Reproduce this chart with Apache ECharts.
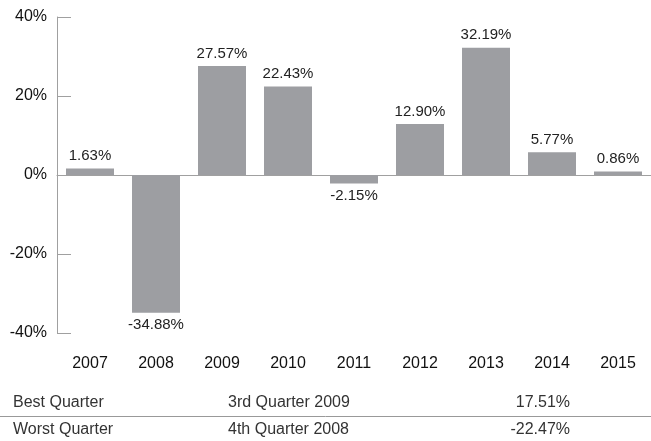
<!DOCTYPE html>
<html>
<head>
<meta charset="utf-8">
<script src="https://cdn.jsdelivr.net/npm/echarts@6/dist/echarts.min.js"></script>
<style>
html,body{margin:0;padding:0;background:#fff;}
#main{width:651px;height:441px;}
</style>
</head>
<body>
<div id="main"></div>
<script>
var years = ['2007','2008','2009','2010','2011','2012','2013','2014','2015'];
var returns = [1.63, -34.88, 27.57, 22.43, -2.15, 12.90, 32.19, 5.77, 0.86];
var yTicks = [-40, -20, 0, 20, 40];

var quarterNames = ['Best Quarter', 'Worst Quarter'];
var quarterWhen = ['3rd Quarter 2009', '4th Quarter 2008'];
var quarterValues = ['17.51%', '-22.47%'];

var font = "'Liberation Sans Narrow', 'Arial Narrow', Arial, sans-serif";

function makeBars(){
	var out = [];
	for (var i = 0; i < returns.length; i++){
		out.push({
			value: returns[i],
			label: { position: returns[i] < 0 ? 'bottom' : 'top' }
		});
	}
	return out;
}

function tableGraphic(){
	var g = [];
	var rowY = [404, 431];
	for (var i = 0; i < quarterNames.length; i++){
		var st = { fill: '#333', font: '16px ' + font, textVerticalAlign: 'middle' };
		g.push({ type: 'text', left: 13, top: rowY[i] - 9, style: Object.assign({ text: quarterNames[i] }, st) });
		g.push({ type: 'text', left: 228, top: rowY[i] - 9, style: Object.assign({ text: quarterWhen[i] }, st) });
		g.push({ type: 'text', right: 81, top: rowY[i] - 9, style: Object.assign({ text: quarterValues[i], textAlign: 'right' }, st) });
	}
	g.push({ type: 'line', shape: { x1: 0, y1: 416.5, x2: 651, y2: 416.5 }, style: { stroke: '#999', lineWidth: 1 } });
	return g;
}

var myChart = echarts.init(document.getElementById('main'));

var option = {
	animation: false,
	textStyle: { fontFamily: font },
	grid: { left: 57, right: -4, top: 17, bottom: 108, containLabel: false },
	xAxis: [
		{
			type: 'category',
			data: years,
			axisLine: { onZero: true, lineStyle: { color: '#a0a0a0', width: 1 } },
			axisTick: { show: false },
			axisLabel: { show: false }
		},
		{
			type: 'category',
			data: years,
			position: 'bottom',
			axisLine: { show: false, onZero: false },
			axisTick: { show: false },
			axisLabel: { color: '#111', fontSize: 16, margin: 23, fontFamily: font }
		}
	],
	yAxis: {
		type: 'value',
		min: yTicks[0],
		max: yTicks[yTicks.length - 1],
		interval: 20,
		splitLine: { show: false },
		axisLine: { show: true, lineStyle: { color: '#a0a0a0', width: 1 } },
		axisTick: { show: true, inside: true, length: 14, lineStyle: { color: '#a0a0a0' } },
		axisLabel: { formatter: '{value}%', color: '#111', fontSize: 16, margin: 10, fontFamily: font }
	},
	series: [{
		type: 'bar',
		xAxisIndex: 0,
		barWidth: 48,
		data: makeBars(),
		itemStyle: { color: '#9d9ea2' },
		label: {
			show: true,
			distance: 5,
			color: '#222',
			fontSize: 15,
			fontFamily: font,
			formatter: function(p){ return p.value.toFixed(2) + '%'; }
		}
	}],
	graphic: tableGraphic()
};

myChart.setOption(option);
</script>
</body>
</html>
